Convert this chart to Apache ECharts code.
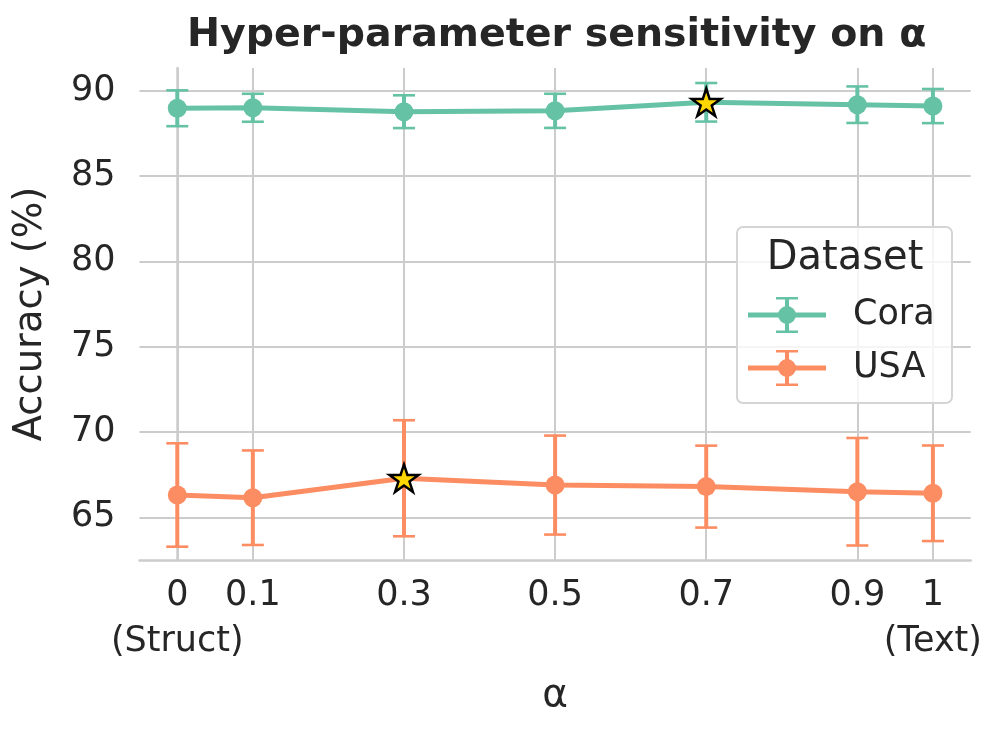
<!DOCTYPE html>
<html><head><meta charset="utf-8">
<script src="https://cdn.jsdelivr.net/npm/echarts@6/dist/echarts.min.js"></script>
<style>html,body{margin:0;padding:0;background:#fff}#c{width:996px;height:730px}</style>
</head><body><div id="c"></div>
<script>
// ---- data ----
const alphas = [0, 0.1, 0.3, 0.5, 0.7, 0.9, 1];
const xTickLabels = ['0', '0.1', '0.3', '0.5', '0.7', '0.9', '1'];
const xSubValues = [0, 1];
const xSubLabels = ['(Struct)', '(Text)'];
const yTicks = [65, 70, 75, 80, 85, 90];
const coraMean = [88.97, 89.0, 88.77, 88.82, 89.32, 89.18, 89.1];
const coraErr  = [1.05, 0.82, 0.96, 1.0, 1.13, 1.07, 1.0];
const usaMean  = [66.31, 66.15, 67.29, 66.89, 66.8, 66.5, 66.41];
const usaErr   = [3.03, 2.77, 3.4, 2.9, 2.4, 3.15, 2.8];
const seriesNames = ['Cora', 'USA'];
const titleText = 'Hyper-parameter sensitivity on α';

// ---- style ----
const COLORS = ['#66c2a5', '#fc8d62'];
const TXT = '#262626';
const GRIDC = '#cccccc';
const FONT = 'DejaVu Sans';

function starPath() {
  let d = '';
  for (let i = 0; i < 10; i++) {
    const r = i % 2 === 0 ? 50 : 19.1;
    const a = (-90 + i * 36) * Math.PI / 180;
    d += (i === 0 ? 'M' : 'L') + (r * Math.cos(a)).toFixed(2) + ',' + (r * Math.sin(a)).toFixed(2);
  }
  return 'path://' + d + 'Z';
}
const STAR = starPath();

function lineData(means) {
  let best = 0;
  means.forEach((m, i) => { if (m > means[best]) best = i; });
  return alphas.map((a, i) => i === best ? {
    value: [a, means[i]], symbol: STAR, symbolSize: 29, symbolKeepAspect: true,
    itemStyle: { color: '#FFD700', borderColor: '#000', borderWidth: 2.5 }
  } : [a, means[i]]);
}
function errData(means, errs) {
  return alphas.map((a, i) => [a, means[i] - errs[i], means[i] + errs[i]]);
}
function errRender(color) {
  return function (params, api) {
    const x = api.value(0), lo = api.value(1), hi = api.value(2);
    const p1 = api.coord([x, lo]), p2 = api.coord([x, hi]);
    const hw = 11;
    return { type: 'group', children: [
      { type: 'line', shape: { x1: p1[0], y1: p1[1], x2: p2[0], y2: p2[1] }, style: { stroke: color, lineWidth: 4 } },
      { type: 'line', shape: { x1: p1[0] - hw, y1: p1[1], x2: p1[0] + hw, y2: p1[1] }, style: { stroke: color, lineWidth: 2.6 } },
      { type: 'line', shape: { x1: p2[0] - hw, y1: p2[1], x2: p2[0] + hw, y2: p2[1] }, style: { stroke: color, lineWidth: 2.6 } }
    ]};
  };
}
const legendIcon = 'path://M0,15.5 L78,15.5 L78,20.5 L0,20.5 Z M37,0 L41,0 L41,36 L37,36 Z M28,0 L50,0 L50,2.6 L28,2.6 Z M28,33.4 L50,33.4 L50,36 L28,36 Z M30,18 A9,9 0 1,1 48,18 A9,9 0 1,1 30,18 Z';

const chart = echarts.init(document.getElementById('c'));
const means = [coraMean, usaMean], errs = [coraErr, usaErr];
const series = [];
seriesNames.forEach((n, k) => {
  series.push({
    name: n + ' err', type: 'custom', z: 2, silent: true,
    renderItem: errRender(COLORS[k]),
    encode: { x: 0, y: [1, 2] },
    data: errData(means[k], errs[k])
  });
});
seriesNames.forEach((n, k) => {
  series.push({
    name: n, type: 'line', z: 3,
    symbol: 'circle', symbolSize: 19, showAllSymbol: true,
    itemStyle: { color: COLORS[k] },
    lineStyle: { color: COLORS[k], width: 5 },
    emphasis: { disabled: true },
    data: lineData(means[k])
  });
});

chart.setOption({
  animation: false,
  backgroundColor: '#fff',
  textStyle: { fontFamily: FONT },
  title: {
    text: titleText, left: 182, top: 11,
    textStyle: { fontFamily: FONT, fontSize: 39.5, fontWeight: 'bold', color: TXT }
  },
  grid: { left: 139.5, right: 25.3, top: 68, bottom: 170, containLabel: false, outerBoundsMode: 'none' },
  xAxis: [{
    type: 'value', min: -0.05, max: 1.05, position: 'bottom',
    name: 'α', nameLocation: 'middle', nameGap: 116,
    nameTextStyle: { fontFamily: FONT, fontSize: 39, color: TXT },
    axisLine: { show: true, lineStyle: { color: GRIDC, width: 2.5 } },
    axisTick: { show: false, customValues: alphas },
    axisLabel: {
      customValues: alphas, margin: 18, fontFamily: FONT, fontSize: 35, color: TXT,
      hideOverlap: false, showMinLabel: true, showMaxLabel: true,
      formatter: v => { const i = alphas.indexOf(v); return i >= 0 ? xTickLabels[i] : ''; }
    },
    splitLine: { show: true, lineStyle: { color: GRIDC, width: 2 } }
  }, {
    type: 'value', min: -0.05, max: 1.05, position: 'bottom',
    axisLine: { show: false }, splitLine: { show: false },
    axisTick: { show: false, customValues: xSubValues },
    axisLabel: {
      customValues: xSubValues, margin: 64, fontFamily: FONT, fontSize: 35, color: TXT,
      showMinLabel: true, showMaxLabel: true,
      formatter: v => { const i = xSubValues.indexOf(v); return i >= 0 ? xSubLabels[i] : ''; }
    }
  }],
  yAxis: {
    type: 'value', min: 62.5, max: 91.33,
    name: 'Accuracy (%)', nameLocation: 'middle', nameGap: 89,
    nameTextStyle: { fontFamily: FONT, fontSize: 38.5, color: TXT },
    axisLine: { show: true, lineStyle: { color: GRIDC, width: 2.5 } },
    axisTick: { show: false, customValues: yTicks },
    axisLabel: { customValues: yTicks, margin: 24, fontFamily: FONT, fontSize: 35, color: TXT },
    splitLine: { show: true, lineStyle: { color: GRIDC, width: 2 } }
  },
  legend: {
    data: seriesNames, orient: 'vertical', left: 748, top: 297, padding: 0, z: 20,
    itemWidth: 78, itemHeight: 36, itemGap: 17, icon: legendIcon, selectedMode: false,
    textStyle: { fontFamily: FONT, fontSize: 35, color: TXT, padding: [0, 0, 0, 22] }
  },
  graphic: [
    { type: 'rect', z: 10, shape: { x: 737, y: 227, width: 215, height: 176, r: 6 },
      style: { fill: 'rgba(255,255,255,0.8)', stroke: '#d5d5d5', lineWidth: 2 } },
    { type: 'text', z: 11, x: 845, y: 259,
      style: { text: 'Dataset', fontFamily: FONT, fontSize: 40, fill: TXT, textAlign: 'center', textVerticalAlign: 'middle' } }
  ],
  series: series
});
</script></body></html>
